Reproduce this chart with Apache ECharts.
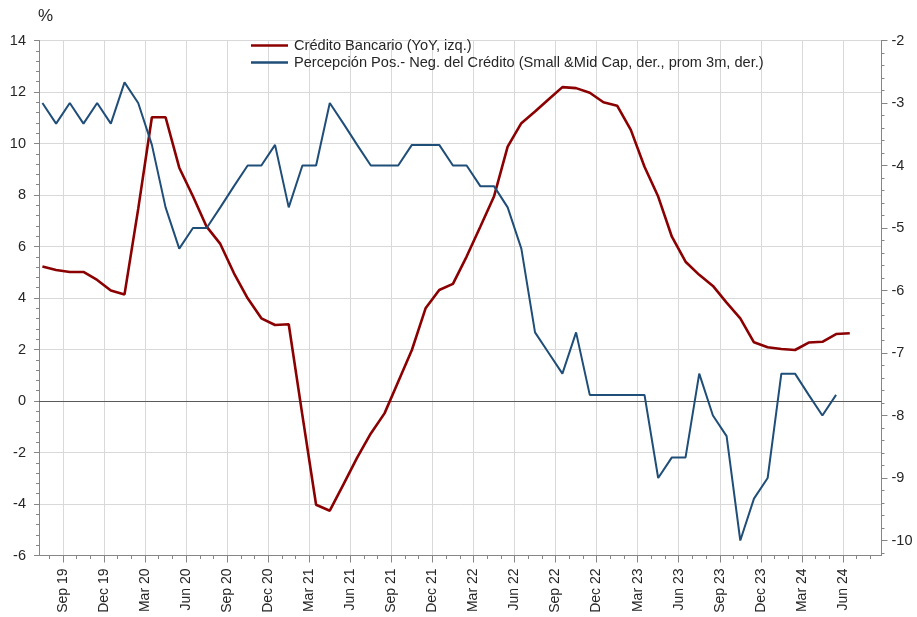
<!DOCTYPE html>
<html><head><meta charset="utf-8">
<script src="https://cdn.jsdelivr.net/npm/echarts@6/dist/echarts.min.js"></script>
<style>html,body{margin:0;padding:0;background:#fff}#c{width:917px;height:617px}</style>
</head><body><div id="c"></div>
<script>
// Monthly categories, Jul 2019 .. Aug 2024 (axis runs slightly past the data)
const months = [
 'Jul 19','Aug 19','Sep 19','Oct 19','Nov 19','Dec 19',
 'Jan 20','Feb 20','Mar 20','Apr 20','May 20','Jun 20','Jul 20','Aug 20','Sep 20','Oct 20','Nov 20','Dec 20',
 'Jan 21','Feb 21','Mar 21','Apr 21','May 21','Jun 21','Jul 21','Aug 21','Sep 21','Oct 21','Nov 21','Dec 21',
 'Jan 22','Feb 22','Mar 22','Apr 22','May 22','Jun 22','Jul 22','Aug 22','Sep 22','Oct 22','Nov 22','Dec 22',
 'Jan 23','Feb 23','Mar 23','Apr 23','May 23','Jun 23','Jul 23','Aug 23','Sep 23','Oct 23','Nov 23','Dec 23',
 'Jan 24','Feb 24','Mar 24','Apr 24','May 24','Jun 24','Jul 24','Aug 24'
];
// Crédito Bancario (YoY, %), left axis
const creditoBancario = [
 5.22,5.09,5.01,5.01,4.70,4.29,4.14,7.46,11.02,11.02,
 9.06,7.95,6.77,6.10,4.96,3.99,3.21,2.95,2.98,-0.56,
 -4.03,-4.26,-3.24,-2.20,-1.26,-0.48,0.75,1.98,3.60,4.31,
 4.55,5.61,6.77,7.94,9.88,10.79,11.24,11.72,12.19,12.15,
 11.97,11.60,11.47,10.53,9.10,7.94,6.38,5.41,4.90,4.47,
 3.82,3.21,2.28,2.09,2.02,1.98,2.27,2.30,2.60,2.63
];
// Percepción Pos.- Neg. del Crédito, right axis
const percepcion = [
 -3.0,-3.33,-3.0,-3.33,-3.0,-3.33,-2.67,-3.0,-3.67,-4.67,
 -5.33,-5.0,-5.0,-4.67,-4.33,-4.0,-4.0,-3.67,-4.67,-4.0,
 -4.0,-3.0,-3.33,-3.67,-4.0,-4.0,-4.0,-3.67,-3.67,-3.67,
 -4.0,-4.0,-4.33,-4.33,-4.67,-5.33,-6.67,-7.0,-7.33,-6.67,
 -7.67,-7.67,-7.67,-7.67,-7.67,-9.0,-8.67,-8.67,-7.33,-8.0,
 -8.33,-10.0,-9.33,-9.0,-7.33,-7.33,-7.67,-8.0,-7.67
];
const xTickLabels = ['Sep 19','Dec 19','Mar 20','Jun 20','Sep 20','Dec 20','Mar 21','Jun 21','Sep 21','Dec 21',
 'Mar 22','Jun 22','Sep 22','Dec 22','Mar 23','Jun 23','Sep 23','Dec 23','Mar 24','Jun 24'];
const rightTickLabels = [-2,-3,-4,-5,-6,-7,-8,-9,-10];
const seriesNames = ['Crédito Bancario (YoY, izq.)','Percepción Pos.- Neg. del Crédito (Small &Mid Cap, der., prom 3m, der.)'];

const FONT = '"Liberation Sans", Arial, sans-serif';
const TXT = '#262626';
const AXIS = '#868686';
const GRID = '#d9d9d9';
const X_MIN = -0.25, X_MAX = 61.32;
const R_MIN = -10.24, R_MAX = -2;

// tick marks sit on month boundaries (half a slot before each month's point)
const majorPos = xTickLabels.map(l => months.indexOf(l) - 0.5);
const minorPos = months.map((m, i) => i - 0.5).filter(v => v > X_MIN && v < X_MAX);
const rightMinor = [];
for (let i = -51; i <= -10; i++) rightMinor.push(i / 5);

const chart = echarts.init(document.getElementById('c'), null, {renderer: 'canvas'});
chart.setOption({
  animation: false,
  backgroundColor: '#fff',
  textStyle: {fontFamily: FONT},
  title: {text: '%', left: 33, top: 3, textStyle: {fontFamily: FONT, fontSize: 17, fontWeight: 'normal', color: TXT}},
  grid: {left: 39, right: 35.5, top: 40.5, bottom: 61.5, containLabel: false},
  legend: {
    orient: 'vertical', left: 246, top: 33, itemGap: 2,
    itemWidth: 37, itemHeight: 2.5, icon: 'rect',
    textStyle: {fontFamily: FONT, fontSize: 14.6, color: TXT, padding: [0, 0, 0, 1]},
    data: seriesNames
  },
  xAxis: [{
    type: 'value', position: 'bottom', min: X_MIN, max: X_MAX,
    axisLine: {show: true, onZero: false, lineStyle: {color: AXIS, width: 1}},
    axisTick: {show: true, inside: false, length: 7, customValues: majorPos, lineStyle: {color: AXIS}},
    axisLabel: {show: true, customValues: majorPos, rotate: 90, margin: 13, fontSize: 14, color: TXT, fontFamily: FONT,
      formatter: v => months[Math.round(v + 0.5)]},
    splitLine: {show: true, lineStyle: {color: GRID, width: 1}}
  }, {
    type: 'value', position: 'bottom', min: X_MIN, max: X_MAX,
    axisLine: {show: false, onZero: false},
    axisTick: {show: true, inside: false, length: 3.5, customValues: minorPos, lineStyle: {color: AXIS}},
    axisLabel: {show: false},
    splitLine: {show: false}
  }],
  yAxis: [{
    type: 'value', position: 'left', min: -6, max: 14, interval: 2,
    axisLine: {show: true, onZero: false, lineStyle: {color: AXIS}},
    axisTick: {show: true, inside: false, length: 5, lineStyle: {color: AXIS}},
    minorTick: {show: true, splitNumber: 5, length: 3, lineStyle: {color: AXIS}},
    axisLabel: {fontSize: 14.5, color: TXT, margin: 13, fontFamily: FONT},
    splitLine: {show: true, lineStyle: {color: GRID, width: 1}}
  }, {
    type: 'value', position: 'right', min: R_MIN, max: R_MAX,
    axisLine: {show: true, onZero: false, lineStyle: {color: AXIS}},
    axisTick: {show: true, inside: false, length: 6, customValues: rightTickLabels, lineStyle: {color: AXIS}},
    axisLabel: {show: true, customValues: rightTickLabels, fontSize: 14.5, color: TXT, margin: 10, fontFamily: FONT},
    splitLine: {show: false}
  }, {
    type: 'value', position: 'right', min: R_MIN, max: R_MAX,
    axisLine: {show: false, onZero: false},
    axisTick: {show: true, inside: false, length: 3, customValues: rightMinor, lineStyle: {color: AXIS}},
    axisLabel: {show: false},
    splitLine: {show: false}
  }],
  series: [{
    name: seriesNames[0], type: 'line', xAxisIndex: 0, yAxisIndex: 0,
    data: creditoBancario.map((v, i) => [i, v]),
    showSymbol: false, symbol: 'none',
    lineStyle: {color: '#8B0000', width: 2.6},
    itemStyle: {color: '#8B0000'},
    z: 3,
    markLine: {
      silent: true, symbol: 'none', label: {show: false},
      lineStyle: {color: '#5a5a5a', width: 1.2, type: 'solid'},
      data: [{yAxis: 0}], z: 1
    }
  }, {
    name: seriesNames[1], type: 'line', xAxisIndex: 0, yAxisIndex: 1,
    data: percepcion.map((v, i) => [i, v]),
    showSymbol: false, symbol: 'none',
    lineStyle: {color: '#1F4E79', width: 2},
    itemStyle: {color: '#1F4E79'},
    z: 4
  }]
});
</script></body></html>
